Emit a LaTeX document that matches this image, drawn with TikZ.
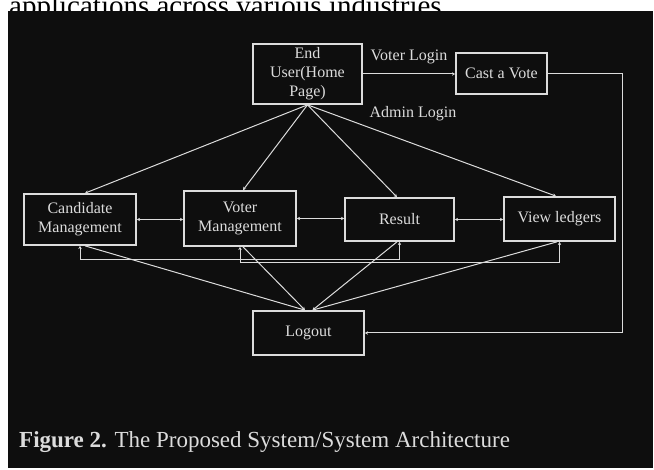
\documentclass[tikz,border=0pt]{standalone}
\usepackage{fontspec}
\setmainfont{Liberation Serif}
\usetikzlibrary{arrows.meta}

\definecolor{panel}{HTML}{0E0E0E}
\definecolor{ink}{HTML}{DCDCDC}

\begin{document}
\begin{tikzpicture}[x=1pt, y=-1pt, >={Stealth[length=3.2pt,width=3.4pt]},
	box/.style={draw=ink, line width=1.7pt, text=ink, align=center, inner sep=0pt,
		font=\fontsize{16}{19}\selectfont},
	wire/.style={draw=ink, line width=1pt},
	lbl/.style={text=ink, inner sep=0pt, font=\fontsize{16}{19}\selectfont}]
				\useasboundingbox (0,0) rectangle (654,470);
				\fill[white] (0,0) rectangle (654,470);
				
				% Text of the page above the figure
				\node[anchor=base west, inner sep=0pt, text=black,
					font=\fontsize{29}{34}\selectfont] (intro) at (9,16) {applications across various industries.};
				
				% Dark panel
				\fill[panel] (8,11) rectangle (653,468);
				
				% Boxes
				\node[box, minimum width=109, minimum height=60] (enduser) at (307.5,74) {End\\User(Home\\Page)};
				\node[box, minimum width=91, minimum height=41] (vote) at (501.5,73.5) {Cast a Vote};
				\node[box, minimum width=112, minimum height=51] (cand) at (80,219.5) {Candidate\\Management};
				\node[box, minimum width=112, minimum height=55] (voter) at (240,218.5) {Voter\\Management};
				\node[box, minimum width=109, minimum height=43] (result) at (399.5,219.5) {Result};
				\node[box, minimum width=111, minimum height=44] (ledger) at (559.5,219) {View ledgers};
				\node[box, minimum width=111, minimum height=44] (logout) at (308.5,333) {Logout};
				
				% Login labels
				\node[lbl] (vlogin) at (409,57) {Voter Login};
				\node[lbl] (alogin) at (413,114) {Admin Login};
				
				% Voter login and the way back to logout
				\draw[wire, ->] (enduser.east) -- (enduser.east -| vote.west);
				\draw[wire, ->] (vote.east) -- ++(75,0) |- (logout.east);
				
				% Home page to the four modules
				\draw[wire, ->] (enduser.south) -- ([xshift=5]cand.north);
				\draw[wire, ->] (enduser.south) -- ([xshift=3]voter.north);
				\draw[wire, ->] (enduser.south) -- ([xshift=-2.5]result.north);
				\draw[wire, ->] (enduser.south) -- ([xshift=-3.5]ledger.north);
				
				% Links between neighbouring modules
				\draw[wire, <->] (cand.east) -- (cand.east -| voter.west);
				\draw[wire, <->] (voter.east) -- (voter.east -| result.west);
				\draw[wire, <->] (result.east) -- (result.east -| ledger.west);
				
				% Links under the modules
				\draw[wire, <->] (cand.south) -- ++(0,14) -| (result.south);
				\draw[wire, <->] (voter.south) -- ++(0,16) -| (ledger.south);
				
				% Modules to logout
				\draw[wire, ->] ([xshift=5]cand.south) -- ([xshift=-3.5]logout.north);
				\draw[wire, ->] ([xshift=3]voter.south) -- ([xshift=-3.5]logout.north);
				\draw[wire, ->] ([xshift=-2.5]result.south) -- ([xshift=4]logout.north);
				\draw[wire, ->] ([xshift=-2.5]ledger.south) -- ([xshift=4]logout.north);
				
				% Caption
				\node[anchor=base west, inner sep=0pt, text=ink,
					font=\fontsize{23}{27}\selectfont] (caption) at (19,448) {\textbf{Figure 2.} The Proposed System/System Architecture};
			\end{tikzpicture}
\end{document}
